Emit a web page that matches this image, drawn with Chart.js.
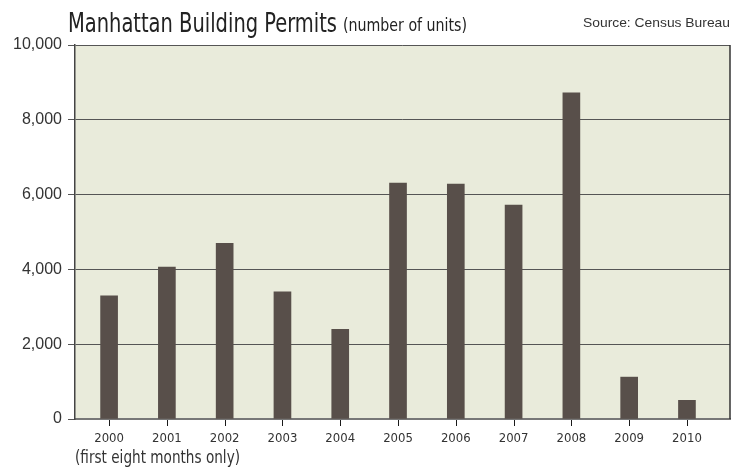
<!DOCTYPE html>
<html>
<head>
<meta charset="utf-8">
<script src="https://cdn.jsdelivr.net/npm/chart.js@4/dist/chart.umd.min.js"></script>
<style>
  body { margin: 0; background: #fff; }
  #wrap { width: 745px; height: 471px; position: relative; }
</style>
</head>
<body>
<div id="wrap"><canvas id="permitsChart"></canvas></div>
<script>
const years = [2000, 2001, 2002, 2003, 2004, 2005, 2006, 2007, 2008, 2009, 2010];
const units = [3290, 4060, 4700, 3400, 2400, 6310, 6280, 5720, 8720, 1120, 500];
const yTicks = [0, 2000, 4000, 6000, 8000, 10000];

const narrow = "'Liberation Sans Narrow', 'DejaVu Sans Condensed', 'Liberation Sans', sans-serif";
const plain = "'Liberation Sans', Arial, sans-serif";

// squeeze a line of text into the width it has in the reference
const fitText = (ctx, text, x, y, width, font, color, align) => {
  ctx.save();
  ctx.font = font;
  ctx.fillStyle = color;
  ctx.textBaseline = 'alphabetic';
  ctx.textAlign = 'left';
  const w = ctx.measureText(text).width;
  const sx = width / w;
  const left = align === 'right' ? x - width : x;
  ctx.translate(left, y);
  ctx.scale(sx, 1);
  ctx.fillText(text, 0, 0);
  ctx.restore();
}

const frame = {
  id: 'frame',
  beforeDraw(chart) {
    const { ctx, chartArea: a } = chart;
    ctx.save();
    ctx.fillStyle = '#e9ebdb';
    ctx.fillRect(a.left, a.top, a.right - a.left, a.bottom - a.top);
    ctx.restore();
  },
  afterDraw(chart) {
    const { ctx, chartArea: a } = chart;
    const xs = chart.scales.x;
    ctx.save();
    ctx.strokeStyle = '#333';
    ctx.lineWidth = 1.5;
    ctx.beginPath();
    ctx.moveTo(a.right, a.top);
    ctx.lineTo(a.right, a.bottom);
    ctx.stroke();
    // year tick marks under the axis
    ctx.fillStyle = '#1a1a1a';
    years.forEach(yr => {
      const px = Math.round(xs.getPixelForValue(yr));
      ctx.fillRect(px, a.bottom + 1, 1, 6);
    });
    ctx.restore();

    fitText(ctx, 'Manhattan Building Permits', 68, 32, 269, '27px ' + narrow, '#222');
    fitText(ctx, '(number of units)', 343, 31, 124, '17px ' + narrow, '#222');
    fitText(ctx, 'Source: Census Bureau', 730, 27, 147, '13px ' + plain, '#333', 'right');
    fitText(ctx, '(first eight months only)', 75, 463, 165, '17px ' + narrow, '#333');
  }
};

new Chart(document.getElementById('permitsChart').getContext('2d'), {
  type: 'bar',
  data: {
    datasets: [{
      label: 'Units',
      data: years.map((yr, i) => ({ x: yr, y: units[i] })),
      backgroundColor: '#584f4a',
      barThickness: 17,
    }]
  },
  options: {
    responsive: true,
    maintainAspectRatio: false,
    animation: false,
    layout: { padding: { top: 45, right: 15, left: 0, bottom: 0 } },
    plugins: {
      legend: { display: false },
      tooltip: { enabled: false },
    },
    scales: {
      x: {
        type: 'linear',
        min: 1999.41,
        max: 2010.745,
        offset: false,
        grid: { offset: false, drawOnChartArea: false, drawTicks: false },
        border: { color: '#777', width: 2 },
        ticks: {
          stepSize: 1,
          includeBounds: false,
          autoSkip: false,
          maxRotation: 0,
          padding: 12,
          color: '#333',
          font: { family: narrow, size: 13 },
          callback: (v) => String(v),
        },
        afterFit: (s) => { s.height = 52; },
      },
      y: {
        min: yTicks[0],
        max: yTicks[yTicks.length - 1],
        afterBuildTicks: (s) => { s.ticks = yTicks.map(v => ({ value: v })); },
        grid: { color: '#555', lineWidth: 1, tickLength: 7 },
        border: { color: '#444', width: 1.5 },
        ticks: {
          padding: 6,
          color: '#333',
          font: { family: plain, size: 16 },
          callback: (v) => v.toLocaleString('en-US'),
        },
        afterFit: (s) => { s.width = 75; },
      }
    }
  },
  plugins: [frame]
});
</script>
</body>
</html>
